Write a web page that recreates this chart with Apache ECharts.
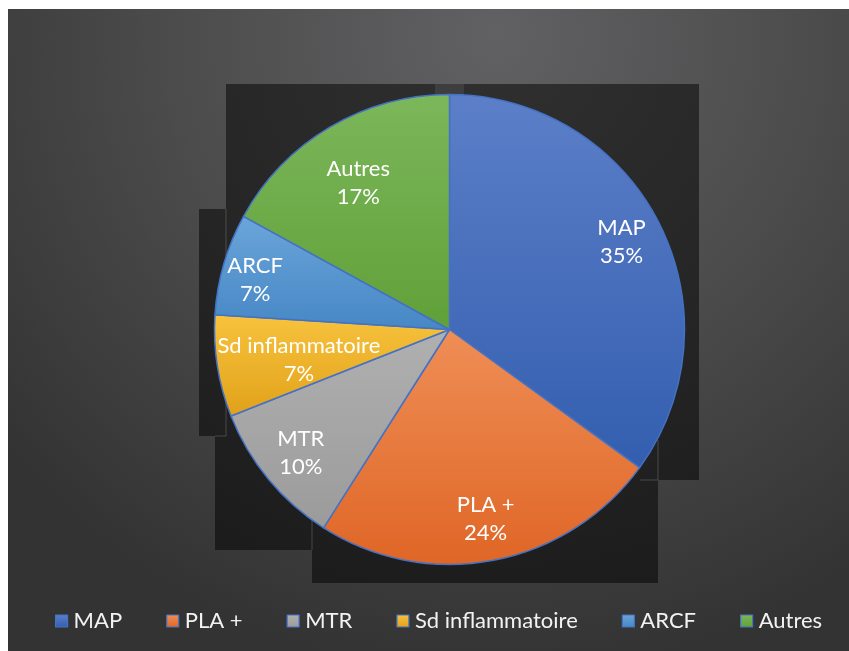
<!DOCTYPE html>
<html>
<head>
<meta charset="utf-8">
<script src="https://cdn.jsdelivr.net/npm/echarts@6/dist/echarts.min.js"></script>
<style>
html,body{margin:0;padding:0;background:#ffffff;}
#chart{width:849px;height:651px;}
</style>
</head>
<body>
<div id="chart"></div>
<script>
// ---- data ----
const categories = ['MAP', 'PLA +', 'MTR', 'Sd inflammatoire', 'ARCF', 'Autres'];
const values = [35, 24, 10, 7, 7, 17];

// ---- styles ----
const sliceTop = ['#5c7fc8', '#ef8e56', '#b0b0b0', '#f8c33d', '#6ba5da', '#7cb75b'];
const sliceBottom = ['#335eaf', '#df6626', '#9b9b9b', '#e1a11a', '#4687c5', '#60a038'];
const labelNudge = {3: [40, 0], 4: [-9, 4], 5: [7, 20]};

const G = echarts.graphic;
const pieData = categories.map((c, i) => ({
  name: c,
  value: values[i],
  itemStyle: {
    color: new G.LinearGradient(0, 0, 0, 1, [
      {offset: 0, color: sliceTop[i]},
      {offset: 1, color: sliceBottom[i]}
    ])
  }
}));
const labelData = categories.map((c, i) => ({name: c, value: values[i]}));

const chart = echarts.init(document.getElementById('chart'), null, {renderer: 'canvas'});
const center = [449.5, 329.5];
const R = 235;

chart.setOption({
  animation: false,
  graphic: [
    {
      type: 'rect', z: -10, silent: true,
      shape: {x: 8, y: 9, width: 841, height: 642},
      style: {
        fill: new G.RadialGradient(0.58, 0.04, 1.0, [
          {offset: 0, color: '#616163'},
          {offset: 0.5, color: '#4c4c4d'},
          {offset: 1, color: '#333333'}
        ])
      }
    },
    {
      type: 'polygon', z: -9, silent: true,
      shape: {points: [[226,84],[699,84],[699,480],[658,480],[658,583],[312,583],[312,550],[215,550],[215,436],[199,436],[199,209],[226,209]]},
      style: {fill: 'rgba(0,0,0,0.5)'}
    },
    {
      type: 'rect', z: -8, silent: true,
      shape: {x: 435, y: 84, width: 29, height: 11},
      style: {fill: '#3e3e40'}
    },
    {
      type: 'polyline', z: -8, silent: true,
      shape: {points: [[226,209],[226,436],[215,436]]},
      style: {stroke: 'rgba(255,255,255,0.18)', lineWidth: 1, fill: null}
    },
    {
      type: 'polyline', z: -8, silent: true,
      shape: {points: [[312,520],[312,550]]},
      style: {stroke: 'rgba(255,255,255,0.18)', lineWidth: 1, fill: null}
    },
    {
      type: 'polyline', z: -8, silent: true,
      shape: {points: [[658,440],[658,480],[640,480]]},
      style: {stroke: 'rgba(255,255,255,0.18)', lineWidth: 1, fill: null}
    }
  ],
  legend: {
    data: categories,
    left: 55,
    top: 610,
    padding: 0,
    itemGap: 44,
    itemWidth: 12,
    itemHeight: 12,
    icon: 'rect',
    itemStyle: {borderColor: '#4472C4', borderWidth: 1.2},
    textStyle: {color: '#f2f2f2', fontSize: 22, fontFamily: 'Lato', padding: [0, 0, 0, 1]}
  },
  series: [
    {
      type: 'pie',
      center: center,
      radius: [0, R],
      startAngle: 90,
      clockwise: true,
      label: {show: false},
      labelLine: {show: false},
      itemStyle: {borderColor: '#4472C4', borderWidth: 1.5},
      emphasis: {disabled: true},
      data: pieData
    },
    {
      type: 'pie',
      center: center,
      radius: [145, R],
      startAngle: 90,
      clockwise: true,
      silent: true,
      avoidLabelOverlap: false,
      itemStyle: {color: 'rgba(0,0,0,0)', borderWidth: 0},
      label: {
        show: true,
        position: 'inside',
        formatter: p => p.name + '\n' + Math.round(p.percent) + '%',
        color: '#ffffff',
        fontSize: 22,
        fontFamily: 'Lato',
        lineHeight: 28,
        align: 'center'
      },
      labelLayout: function (p) {
        const n = labelNudge[p.dataIndex];
        return n ? {dx: n[0], dy: n[1]} : {};
      },
      labelLine: {show: false},
      emphasis: {disabled: true},
      data: labelData
    }
  ]
});
</script>
</body>
</html>
